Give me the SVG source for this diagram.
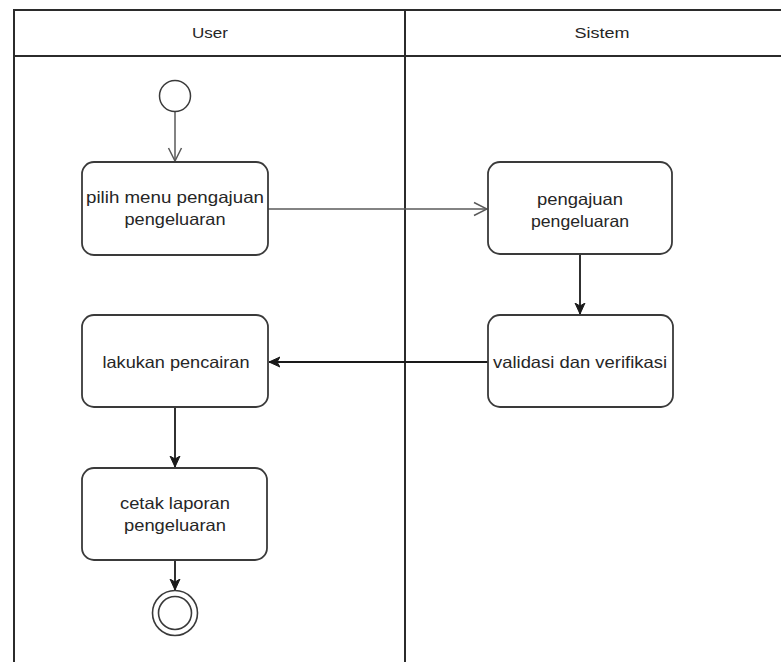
<svg xmlns="http://www.w3.org/2000/svg" width="781" height="662" viewBox="0 0 781 662">
  <style>
    .lane { fill: none; stroke: #2b2b2b; stroke-width: 2; }
    .act { fill: #ffffff; stroke: #3a3a3a; stroke-width: 1.8; }
    .lbl { font-family: "Liberation Sans", Arial, sans-serif; font-size: 16.5px; fill: #262626; text-anchor: middle; }
    .hdr { font-family: "Liberation Sans", Arial, sans-serif; font-size: 15.5px; fill: #262626; text-anchor: middle; }
    .flow-open { fill: none; stroke: #5a5a5a; stroke-width: 1.5; }
    .flow { fill: none; stroke: #1a1a1a; stroke-width: 1.8; }
  </style>
  <defs>
    <marker id="open" viewBox="0 0 16 16" refX="15" refY="8" markerWidth="16" markerHeight="16" markerUnits="userSpaceOnUse" orient="auto">
      <path d="M2,1.5 L15,8 L2,14.5" fill="none" stroke="#5a5a5a" stroke-width="1.5"/>
    </marker>
    <marker id="solid" viewBox="0 0 12 12" refX="11" refY="6" markerWidth="12" markerHeight="12" markerUnits="userSpaceOnUse" orient="auto">
      <path d="M0,1 L11,6 L0,11 L3,6 Z" fill="#1a1a1a" stroke="#1a1a1a" stroke-width="1"/>
    </marker>
  </defs>

  <rect width="781" height="662" fill="#ffffff"/>

  <!-- swimlane frame -->
  <g id="swimlanes">
    <path class="lane" d="M14,662 L14,10 L781,10"/>
    <line class="lane" x1="14" y1="56" x2="781" y2="56" stroke-width="2.5"/>
    <line class="lane" x1="405" y1="10" x2="405" y2="662"/>
    <text class="hdr" x="210" y="38" textLength="36" lengthAdjust="spacingAndGlyphs">User</text>
    <text class="hdr" x="602" y="38" textLength="55" lengthAdjust="spacingAndGlyphs">Sistem</text>
  </g>

  <!-- connectors -->
  <g id="connectors">
    <line class="flow-open" x1="175" y1="112" x2="175" y2="161" marker-end="url(#open)"/>
    <line class="flow-open" x1="268" y1="209" x2="487" y2="209" marker-end="url(#open)"/>
    <line class="flow" x1="580" y1="254" x2="580" y2="314" marker-end="url(#solid)"/>
    <line class="flow" x1="488" y1="362" x2="269" y2="362" marker-end="url(#solid)"/>
    <line class="flow" x1="175" y1="407" x2="175" y2="467" marker-end="url(#solid)"/>
    <line class="flow" x1="175" y1="560" x2="175" y2="590" marker-end="url(#solid)"/>
  </g>

  <g id="start">
    <circle cx="175" cy="96" r="15.5" fill="#ffffff" stroke="#3a3a3a" stroke-width="1.5"/>
  </g>

  <g id="pilih-menu">
    <rect class="act" x="82" y="162" width="186" height="93" rx="12"/>
    <text class="lbl" x="175" y="203" textLength="178" lengthAdjust="spacingAndGlyphs">pilih menu pengajuan</text>
    <text class="lbl" x="175" y="225" textLength="101" lengthAdjust="spacingAndGlyphs">pengeluaran</text>
  </g>

  <g id="pengajuan">
    <rect class="act" x="488" y="162" width="184" height="92" rx="12"/>
    <text class="lbl" x="580" y="205" textLength="86" lengthAdjust="spacingAndGlyphs">pengajuan</text>
    <text class="lbl" x="580" y="227" textLength="98" lengthAdjust="spacingAndGlyphs">pengeluaran</text>
  </g>

  <g id="validasi">
    <rect class="act" x="488" y="315" width="185" height="92" rx="12"/>
    <text class="lbl" x="580" y="368" textLength="174" lengthAdjust="spacingAndGlyphs">validasi dan verifikasi</text>
  </g>

  <g id="pencairan">
    <rect class="act" x="82" y="315" width="186" height="92" rx="12"/>
    <text class="lbl" x="176" y="368" textLength="147" lengthAdjust="spacingAndGlyphs">lakukan pencairan</text>
  </g>

  <g id="cetak-laporan">
    <rect class="act" x="82" y="468" width="185" height="92" rx="12"/>
    <text class="lbl" x="175" y="509" textLength="110" lengthAdjust="spacingAndGlyphs">cetak laporan</text>
    <text class="lbl" x="175" y="531" textLength="102" lengthAdjust="spacingAndGlyphs">pengeluaran</text>
  </g>

  <g id="end">
    <circle cx="175" cy="613" r="22.5" fill="#ffffff" stroke="#3a3a3a" stroke-width="1.6"/>
    <circle cx="175" cy="613" r="16.5" fill="none" stroke="#3a3a3a" stroke-width="1.6"/>
  </g>
</svg>
